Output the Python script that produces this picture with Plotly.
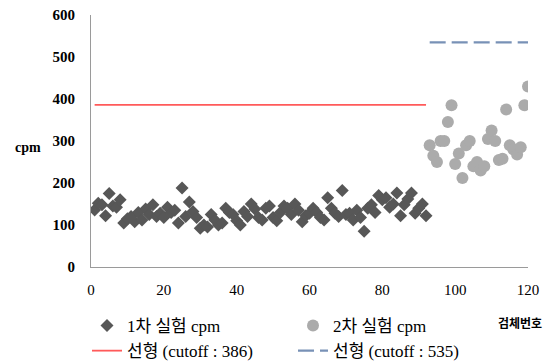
import plotly.graph_objects as go

# Series 1 (1차 실험 cpm), specimen numbers 1..92
s1_x = list(range(1, 93))
s1_y = [136, 152, 148, 122, 175, 145, 142, 160, 105, 115,
        120, 108, 130, 112, 138, 125, 148, 120, 128, 118,
        142, 130, 135, 105, 188, 120, 155, 132, 118, 92,
        100, 95, 125, 112, 100, 105, 140, 130, 125, 110,
        100, 132, 120, 150, 138, 118, 112, 140, 145, 118,
        110, 130, 145, 140, 125, 150, 135, 108, 122, 128,
        140, 130, 118, 112, 165, 140, 128, 120, 182, 125,
        128, 112, 135, 118, 85, 140, 148, 130, 170, 160,
        165, 142, 150, 176, 122, 148, 162, 176, 128, 140,
        150, 122]

# Series 2 (2차 실험 cpm), specimen numbers 93..120
s2_x = list(range(93, 121))
s2_y = [290, 265, 250, 300, 300, 345, 385, 245, 270, 212,
        290, 300, 240, 250, 230, 240, 305, 325, 300, 255,
        258, 375, 290, 280, 268, 285, 385, 430]

cut1_x = [1, 92]
cut1_y = [386, 386]
cut2_x = [93, 120]
cut2_y = [535, 535]

x_ticks = [0, 20, 40, 60, 80, 100, 120]
y_ticks = [0, 100, 200, 300, 400, 500, 600]

SERIF = "Liberation Serif, Noto Sans CJK KR, serif"

# page body has an 8px default margin; figure is sized to fill the rest
W, H = 547, 356

fig = go.Figure()
fig.add_trace(go.Scatter(x=s1_x, y=s1_y, mode="markers", name="1차 실험 cpm",
                         marker=dict(symbol="diamond", size=10, color="#575757")))
fig.add_trace(go.Scatter(x=s2_x, y=s2_y, mode="markers", name="2차 실험 cpm",
                         marker=dict(symbol="circle", size=12, color="#ababab")))
fig.add_trace(go.Scatter(x=cut1_x, y=cut1_y, mode="lines", name="선형 (cutoff : 386)",
                         line=dict(color="#ff5a5a", width=1.8)))
fig.add_trace(go.Scatter(x=cut2_x, y=cut2_y, mode="lines", name="선형 (cutoff : 535)",
                         line=dict(color="#7891b6", width=2.2, dash="16px,6px")))

fig.update_layout(
    width=W, height=H,
    margin=dict(l=83, r=27, t=7, b=97, autoexpand=False),
    paper_bgcolor="white", plot_bgcolor="white",
    font=dict(family=SERIF, size=14, color="black"),
    showlegend=True,
    legend=dict(orientation="h", xref="container", yref="container",
                x=79 / W, y=1 - 300 / H, xanchor="left", yanchor="top",
                entrywidth=161, entrywidthmode="pixels",
                font=dict(family=SERIF, size=17, color="black"),
                itemwidth=30, bgcolor="rgba(0,0,0,0)"),
    xaxis=dict(range=[0, 120], tickvals=x_ticks, showgrid=False, zeroline=False,
               showline=True, linecolor="#9a9a9a", linewidth=1, automargin=False,
               ticks="", ticklabelstandoff=9, ticklabeloverflow="allow",
               tickfont=dict(family=SERIF, size=15, color="black")),
    yaxis=dict(range=[0, 600], tickvals=y_ticks, showgrid=False, zeroline=False,
               showline=True, linecolor="#9a9a9a", linewidth=1, automargin=False,
               ticks="", ticklabelstandoff=12, ticklabeloverflow="allow",
               tickfont=dict(family=SERIF, size=15, color="black", weight="bold")),
    annotations=[
        dict(text="<b>cpm</b>", xref="paper", yref="paper", x=-0.144, y=0.476,
             xanchor="center", yanchor="middle", showarrow=False,
             font=dict(family=SERIF, size=14)),
        dict(text="<b>검체번호</b>", xref="paper", yref="paper", x=1.037, y=-0.222,
             xanchor="right", yanchor="middle", showarrow=False,
             font=dict(family="Noto Sans CJK KR", size=12)),
    ],
)

fig.write_html("out.html")
